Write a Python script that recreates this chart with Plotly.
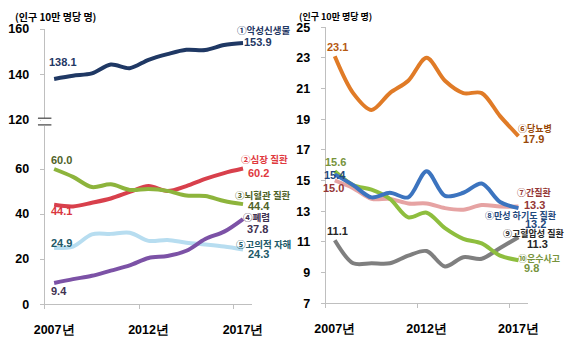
import plotly.graph_objects as go

W, H = 580, 338
years = list(range(2007, 2018))
year_ticks = [2007, 2012, 2017]
year_labels = ["2007년", "2012년", "2017년"]

# Left panel
cancer = [138.1, 139.5, 140.5, 144.4, 142.8, 146.5, 149.0, 150.9, 150.8, 153.0, 153.9]
heart = [44.1, 43.4, 45.0, 46.9, 49.8, 52.5, 50.2, 52.4, 55.6, 58.2, 60.2]
cerebro = [60.0, 56.5, 52.0, 53.2, 50.7, 51.1, 50.3, 48.2, 48.0, 45.8, 44.4]
pneumonia = [9.4, 11.1, 12.6, 14.9, 17.2, 20.5, 21.4, 23.7, 28.9, 32.2, 37.8]
suicide = [24.9, 25.6, 31.0, 31.2, 31.7, 28.1, 28.5, 27.3, 26.5, 25.6, 24.3]

# Right panel
diabetes = [23.1, 20.7, 19.6, 20.7, 21.5, 23.0, 21.5, 20.7, 20.7, 19.2, 17.9]
liver = [15.0, 14.5, 13.8, 13.8, 13.5, 13.5, 13.2, 13.1, 13.4, 13.3, 13.3]
copd = [15.4, 14.7, 13.9, 14.2, 13.9, 15.6, 14.0, 14.2, 14.8, 13.6, 13.2]
hypertension = [11.1, 9.6, 9.6, 9.6, 10.1, 10.4, 9.4, 10.0, 9.9, 10.6, 11.3]
transport = [15.6, 14.7, 14.4, 13.8, 12.6, 12.9, 11.9, 11.2, 10.9, 10.1, 9.8]

left_lower_ticks = [0, 20, 40, 60]
left_upper_ticks = [120, 140, 160]
right_ticks = [7, 9, 11, 13, 15, 17, 19, 21, 23, 25]

NUM = "Liberation Sans Narrow, Liberation Sans, Arial, sans-serif"
KR = "Noto Sans CJK KR, sans-serif"
AX = "#BFBFBF"

def px(x):
    return x / W

def py(y):
    return 1 - y / H

fig = go.Figure()

def line(vals, color, xa, ya):
    fig.add_trace(go.Scatter(x=years, y=vals, mode="lines", xaxis=xa, yaxis=ya,
                             line=dict(color=color, width=4, shape="spline", smoothing=0.9),
                             hoverinfo="skip", showlegend=False))

line(suicide, "#B7DDF0", "x", "y")
line(pneumonia, "#7C52A6", "x", "y")
line(heart, "#D8404C", "x", "y")
line(cerebro, "#8DB43C", "x", "y")
line(cancer, "#1F3864", "x", "y3")

line(hypertension, "#7F7F7F", "x2", "y2")
line(liver, "#E6A3A3", "x2", "y2")
line(transport, "#8EBE3E", "x2", "y2")
line(copd, "#3C74BF", "x2", "y2")
line(diabetes, "#E07B27", "x2", "y2")

xcommon = dict(range=[2006.5, 2017.5], tickmode="array", tickvals=year_ticks, ticktext=year_labels,
               ticks="", showline=True, linecolor=AX, linewidth=1, showgrid=False, zeroline=False,
               tickfont=dict(family=NUM, size=12.5, color="#000000", weight="bold"),
               ticklabelstandoff=14,
               minor=dict(tickmode="array", tickvals=[2006.5, 2011.5, 2016.5], ticks="outside",
                          ticklen=4, tickcolor=AX, showgrid=False))
ycommon = dict(showline=True, linecolor=AX, linewidth=1, showgrid=False, zeroline=False,
               ticks="outside", ticklen=4, tickcolor=AX, tickmode="array",
               tickfont=dict(family=NUM, size=12.5, color="#000000", weight="bold"),
               ticklabelstandoff=8)

fig.update_layout(
    width=W, height=H, autosize=False,
    margin=dict(l=0, r=0, t=0, b=0, pad=0),
    paper_bgcolor="white", plot_bgcolor="white", showlegend=False,
    xaxis=dict(domain=[px(35), px(251)], anchor="y", **xcommon),
    yaxis=dict(domain=[py(310), py(124)], range=[0, (310 - 124) / 2.35], anchor="x",
               tickvals=left_lower_ticks, **ycommon),
    yaxis3=dict(domain=[py(118), py(23)], range=[120, 160], anchor="x",
                tickvals=left_upper_ticks, **ycommon),
    xaxis2=dict(domain=[px(327), px(537)], anchor="y2", **xcommon),
    yaxis2=dict(domain=[py(309), py(21)], range=[7, 25], anchor="x2",
                tickvals=right_ticks, **ycommon),
)

# axis break marker at 120
fig.add_shape(type="rect", xref="paper", yref="paper", x0=px(31), x1=px(39), y0=py(123), y1=py(116),
              fillcolor="white", line=dict(width=0), layer="above")
for yy in (116, 123):
    fig.add_shape(type="line", xref="paper", yref="paper", x0=px(28), x1=px(42), y0=py(yy), y1=py(yy),
                  line=dict(color="#404040", width=1.2), layer="above")

def note(text, x, y, color, font=NUM, size=11, xanchor="center"):
    fig.add_annotation(text=text, xref="paper", yref="paper", x=px(x), y=py(y), showarrow=False,
                       xanchor=xanchor, yanchor="middle", borderpad=0,
                       font=dict(family=font, size=size, color=color, weight="bold"))

f1 = lambda v: f"{v:.1f}"

# titles
note("(인구 10만 명당 명)", 3, 10, "#000000", font=KR, size=10, xanchor="left")
note("(인구 10만 명당 명)", 298, 10, "#000000", font=KR, size=9, xanchor="left")

# left labels
note(f1(cancer[0]), 54, 57, "#1F3864")
note("①악성신생물", 262, 24, "#1F3864", font=KR, size=9.5)
note(f1(cancer[-1]), 257, 37, "#1F3864")
note(f1(cerebro[0]), 52, 160, "#4F6228")
note(f1(heart[0]), 52, 213, "#D9363E")
note("②심장 질환", 263, 159, "#E0393E", font=KR, size=9.5)
note(f1(heart[-1]), 257, 173, "#E0393E")
note("③뇌혈관 질환", 262, 196, "#4F6228", font=KR, size=9.5)
note(f1(cerebro[-1]), 258, 208, "#4F6228")
note("④폐렴", 255, 219, "#3F3151", font=KR, size=9.5)
note(f1(pneumonia[-1]), 256, 232, "#3F3151")
note("⑤고의적 자해", 262, 247, "#215968", font=KR, size=9.5)
note(f1(suicide[-1]), 257, 258, "#215968")
note(f1(suicide[0]), 52, 246, "#215968")
note(f1(pneumonia[0]), 50, 296, "#3F3151")

# right labels
note(f1(diabetes[0]), 339, 42, "#B65A12")
note("⑥당뇨병", 545, 127, "#984807", font=KR, size=9)
note(f1(diabetes[-1]), 543, 138, "#984807")
note(f1(transport[0]), 337, 162, "#77933C")
note(f1(copd[0]), 337, 175, "#1F497D")
note(f1(liver[0]), 335, 189, "#953735")
note("⑦간질환", 544, 194, "#953735", font=KR, size=9)
note(f1(liver[-1]), 544, 207, "#953735")
note("⑧만성 하기도 질환", 530, 217, "#1F497D", font=KR, size=9)
note(f1(copd[-1]), 545, 226, "#1F497D")
note("⑨고혈압성 질환", 543, 236, "#262626", font=KR, size=9)
note(f1(hypertension[-1]), 547, 247, "#262626")
note("⑩운수사고", 549, 262, "#77933C", font=KR, size=9)
note(f1(transport[-1]), 541, 272, "#77933C")
note(f1(hypertension[0]), 339, 234, "#262626")

fig.write_html("out.html")
